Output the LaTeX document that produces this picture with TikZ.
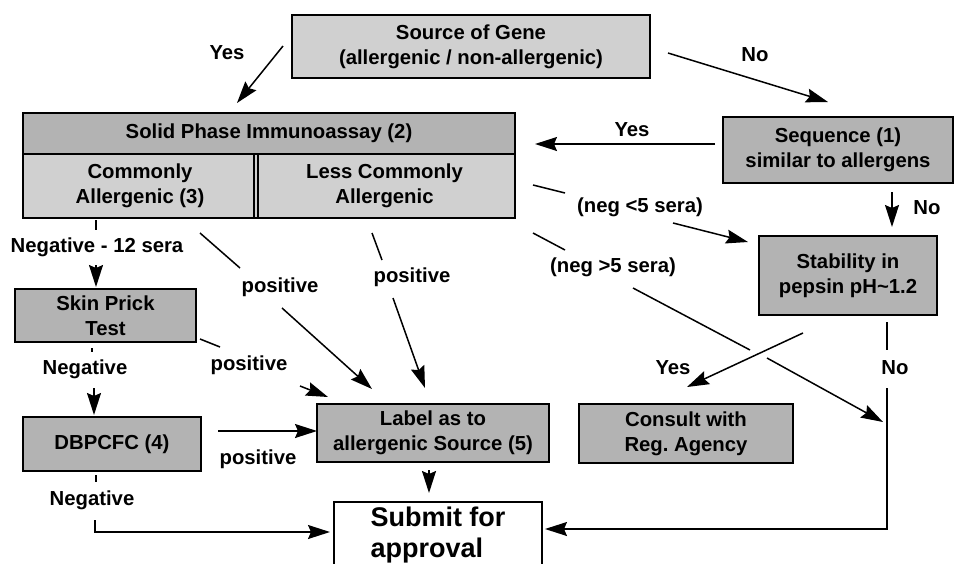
\documentclass[tikz,border=0pt]{standalone}
\usepackage{fontspec}
\setmainfont{Liberation Sans}
\usetikzlibrary{arrows.meta}
\definecolor{boxdark}{HTML}{B3B3B3}
\definecolor{boxlight}{HTML}{D0D0D0}
\tikzset{
  box/.style={draw, line width=1pt, inner sep=0pt, align=center,
    font=\fontsize{10.15pt}{12.5pt}\selectfont\bfseries},
  darkbox/.style={box, fill=boxdark},
  lightbox/.style={box, fill=boxlight},
  lbl/.style={inner sep=1pt, font=\fontsize{10.15pt}{12.5pt}\selectfont\bfseries},
  link/.style={line width=0.75pt},
  arr/.style={link, -{Stealth[length=11pt, width=7pt, inset=1.5pt]}}
}
\begin{document}
\begin{tikzpicture}[x=0.5pt, y=-0.5pt]
\useasboundingbox (0,0) rectangle (954,563);
\clip (0,0) rectangle (954,563);

% Boxes
\node[lightbox, minimum width=179pt, minimum height=31.5pt] (src) at (471,46.5) {Source of Gene\\(allergenic / non-allergenic)};
\node[darkbox, minimum width=246pt, minimum height=20.5pt] (spi) at (269,133.5) {Solid Phase Immunoassay (2)};
\node[lightbox, minimum width=117pt, minimum height=32pt] (common) at (140,186) {Commonly\\Allergenic (3)};
\node[lightbox, minimum width=130.5pt, minimum height=32pt] (less) at (384.5,186) {Less Commonly\\Allergenic};
\draw[line width=1pt] (common.north east) -- (common.south east);
\node[darkbox, minimum width=115pt, minimum height=33pt] (seq) at (838,150) {Sequence (1)\\similar to allergens};
\node[darkbox, minimum width=89pt, minimum height=39.5pt] (stab) at (848,275.5) {Stability in\\pepsin pH\textasciitilde1.2};
\node[darkbox, minimum width=90.5pt, minimum height=26.5pt] (skin) at (105.5,315.5) {Skin Prick\\Test};
\node[darkbox, minimum width=89pt, minimum height=27pt] (dbpcfc) at (112,444) {DBPCFC (4)};
\node[darkbox, minimum width=116pt, minimum height=29pt] (label) at (433,433) {Label as to\\allergenic Source (5)};
\node[darkbox, minimum width=107pt, minimum height=29.5pt] (consult) at (686,433.5) {Consult with\\Reg.\ Agency};
\node[box, fill=white, align=left, minimum width=104pt, minimum height=33pt,
  font=\fontsize{13.5pt}{15.5pt}\selectfont\bfseries] (submit) at (438,535) {Submit for\\approval};

% Labels
\node[lbl] (yesA) at (227,53) {Yes};
\node[lbl] (noA) at (755,55) {No};
\node[lbl] (yesB) at (632,130) {Yes};
\node[lbl] (noB) at (927,208) {No};
\node[lbl] (lessfive) at (640,207) {(neg <5 sera)};
\node[lbl] (morefive) at (613,267) {(neg >5 sera)};
\node[lbl] (yesC) at (673,368) {Yes};
\node[lbl] (noC) at (895,368) {No};
\node[lbl] (negtwelve) at (97,247) {Negative - 12 sera};
\node[lbl] (posA) at (280,287) {positive};
\node[lbl] (posB) at (412,277) {positive};
\node[lbl] (posC) at (249,365) {positive};
\node[lbl] (negA) at (85,369) {Negative};
\node[lbl] (posD) at (258,459) {positive};
\node[lbl] (negB) at (92,500) {Negative};

% Connector ends
\coordinate (yes0) at (283,46);   \coordinate (yes1) at (237,103);
\coordinate (no0) at (668,53);    \coordinate (no1) at (828,102);
\coordinate (sq0) at (715,144);   \coordinate (sq1) at (535,144);
\coordinate (sqn0) at (892,192);  \coordinate (sqn1) at (892,227);
\coordinate (lt0) at (533,185);   \coordinate (lt1) at (565,193);
\coordinate (lt2) at (673,223);   \coordinate (lt3) at (748,242);
\coordinate (gt0) at (533,233);   \coordinate (gt1) at (565,250);
\coordinate (gt2) at (633,288);   \coordinate (gt3) at (750,350);
\coordinate (gt4) at (767,358);   \coordinate (gt5) at (883,422);
\coordinate (sty0) at (803,333);  \coordinate (sty1) at (687,387);
\coordinate (stn0) at (887,322);  \coordinate (stn1) at (887,350);
\coordinate (stn2) at (887,388);  \coordinate (stn3) at (887,529);
\coordinate (stn4) at (545,529);
\coordinate (cn0) at (96,220);    \coordinate (cn1) at (96,230);
\coordinate (cn2) at (96,265);    \coordinate (cn3) at (96,287);
\coordinate (cp0) at (200,233);   \coordinate (cp1) at (240,268);
\coordinate (cp2) at (282,308);   \coordinate (cp3) at (372,389);
\coordinate (lp0) at (372,233);   \coordinate (lp1) at (382,260);
\coordinate (lp2) at (393,298);   \coordinate (lp3) at (425,388);
\coordinate (sp0) at (200,339);   \coordinate (sp1) at (220,347);
\coordinate (sp2) at (300,386);   \coordinate (sp3) at (328,397);
\coordinate (sn0) at (92,348);    \coordinate (sn1) at (92,352);
\coordinate (sn2) at (94,388);    \coordinate (sn3) at (94,415);
\coordinate (dp0) at (218,431);   \coordinate (dp1) at (317,431);
\coordinate (dn0) at (96,475);    \coordinate (dn1) at (96,482);
\coordinate (dn2) at (95,520);    \coordinate (dn3) at (95,532);
\coordinate (dn4) at (330,532);
\coordinate (lb0) at (429,470);   \coordinate (lb1) at (429,493);

% Source and sequence
\draw[arr] (yes0) -- (yes1);
\draw[arr] (no0) -- (no1);
\draw[arr] (sq0) -- (sq1);
\draw[arr] (sqn0) -- (sqn1);

% Immunoassay results
\draw[link] (lt0) -- (lt1);
\draw[arr] (lt2) -- (lt3);
\draw[link] (gt0) -- (gt1);
\draw[link] (gt2) -- (gt3);
\draw[arr] (gt4) -- (gt5);
\draw[link] (cn0) -- (cn1);
\draw[arr] (cn2) -- (cn3);
\draw[link] (cp0) -- (cp1);
\draw[arr] (cp2) -- (cp3);
\draw[link] (lp0) -- (lp1);
\draw[arr] (lp2) -- (lp3);

% Stability
\draw[arr] (sty0) -- (sty1);
\draw[link] (stn0) -- (stn1);
\draw[arr] (stn2) -- (stn3) -- (stn4);

% Skin prick and DBPCFC
\draw[link] (sp0) -- (sp1);
\draw[arr] (sp2) -- (sp3);
\draw[link] (sn0) -- (sn1);
\draw[arr] (sn2) -- (sn3);
\draw[arr] (dp0) -- (dp1);
\draw[link] (dn0) -- (dn1);
\draw[arr] (dn2) -- (dn3) -- (dn4);
\draw[arr] (lb0) -- (lb1);
\end{tikzpicture}
\end{document}
